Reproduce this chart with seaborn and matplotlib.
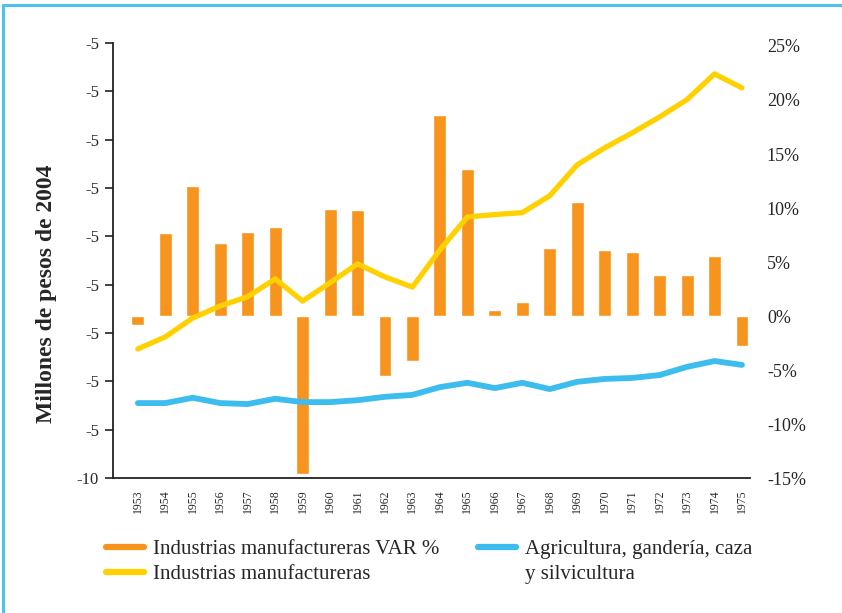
import numpy as np
import pandas as pd
import matplotlib
matplotlib.use("Agg")
import matplotlib.pyplot as plt
from matplotlib.lines import Line2D
import seaborn as sns

sns.set_style("white")
plt.rcParams["font.family"] = ["Liberation Serif", "DejaVu Serif"]

# Data
years = list(range(1953, 1976))

# Industrias manufactureras VAR % (right axis, %)
var_pct = [-0.8, 7.7, 12.0, 6.8, 7.8, 8.2, -14.6, 9.9, 9.8, -5.6, -4.2,
           18.6, 13.6, 0.55, 1.3, 6.3, 10.6, 6.1, 5.9, 3.8, 3.8, 5.6, -2.8]

# Industrias manufactureras (left axis units)
manuf = [2.67, 2.92, 3.31, 3.56, 3.75, 4.12, 3.66, 4.04, 4.43, 4.16, 3.95,
         4.72, 5.40, 5.45, 5.49, 5.84, 6.48, 6.83, 7.14, 7.47, 7.83, 8.36, 8.07]

# Agricultura, ganadería, caza y silvicultura (left axis units)
agri = [1.55, 1.55, 1.66, 1.55, 1.53, 1.64, 1.57, 1.57, 1.61, 1.68, 1.72,
        1.88, 1.97, 1.86, 1.97, 1.84, 1.99, 2.05, 2.07, 2.13, 2.30, 2.42, 2.34]

left_ticks = [0, 1, 2, 3, 4, 5, 6, 7, 8, 9]
left_labels = ["-10", "-5", "-5", "-5", "-5", "-5", "-5", "-5", "-5", "-5"]
right_ticks = [-15, -10, -5, 0, 5, 10, 15, 20, 25]
right_labels = ["-15%", "-10%", "-5%", "0%", "5%", "10%", "15%", "20%", "25%"]

c_orange = "#f7941d"
c_yellow = "#ffd100"
c_blue = "#3dbdee"

df = pd.DataFrame({"idx": np.arange(len(years)), "year": years,
                   "var": var_pct, "manuf": manuf, "agri": agri})

fig = plt.figure(figsize=(8.42, 6.13), dpi=100)
ax = fig.add_axes([0.134, 0.2202, 0.757, 0.7097])
ax2 = ax.twinx()

# bars on the right (%) axis, lines on top on the left axis
sns.barplot(data=df, x="idx", y="var", ax=ax2, color=c_orange, width=0.47,
            native_scale=True, saturation=1)
sns.lineplot(data=df, x="idx", y="manuf", ax=ax, color=c_yellow, linewidth=3.8,
             solid_joinstyle="round", solid_capstyle="round")
sns.lineplot(data=df, x="idx", y="agri", ax=ax, color=c_blue, linewidth=4.2,
             solid_joinstyle="round", solid_capstyle="round")
ax.set_zorder(ax2.get_zorder() + 1)
ax.patch.set_visible(False)

ax.set_xlim(-0.91, 22.3)
ax.set_ylim(0, 9)
ax2.set_ylim(-15, 25.28)

ax.set_yticks(left_ticks)
ax.set_yticklabels(left_labels, fontsize=12)
ax.tick_params(axis="y", direction="out", length=6, width=1.2, color="#222222", pad=4)
ax.set_xticks(df["idx"])
ax.set_xticklabels([str(y) for y in years], rotation=90, fontsize=8.5)
ax.tick_params(axis="x", length=0, pad=8)
ax.set_xlabel("")
ax.set_ylabel("Millones de pesos de 2004", fontsize=17, fontweight="bold")
ax.yaxis.set_label_coords(-0.088, 0.423)

ax2.set_yticks(right_ticks)
ax2.set_yticklabels(right_labels, fontsize=13)
ax2.tick_params(axis="y", length=0, pad=12)
ax2.set_ylabel("")
ax2.set_xlabel("")

for a in (ax, ax2):
    a.spines["top"].set_visible(False)
    a.spines["right"].set_visible(False)
ax2.spines["left"].set_visible(False)
ax2.spines["bottom"].set_visible(False)
ax.spines["left"].set_color("#222222")
ax.spines["bottom"].set_color("#222222")
ax.spines["left"].set_linewidth(1.3)
ax.spines["bottom"].set_linewidth(1.3)

handles = [Line2D([], [], color=c_orange, lw=4.5),
           Line2D([], [], color=c_yellow, lw=4.5),
           Line2D([], [], color=c_blue, lw=4.5),
           Line2D([], [], color="none", lw=0)]
labels = ["Industrias manufactureras VAR %", "Industrias manufactureras",
          "Agricultura, gandería, caza", "y silvicultura"]
leg_kw = dict(loc="upper left", frameon=False, fontsize=15, handlelength=1.8,
              handletextpad=0.45, labelspacing=0.25, borderpad=0, borderaxespad=0)
fig.legend(handles[:2], labels[:2], bbox_to_anchor=(0.126, 0.12), **leg_kw)
fig.legend(handles[2:], labels[2:], bbox_to_anchor=(0.568, 0.12), **leg_kw)

# cyan frame (top and left edges)
border = "#4cc3ef"
fig.add_artist(Line2D([0.003, 0.003], [0.0, 0.992], color=border, lw=2.2,
                      transform=fig.transFigure))
fig.add_artist(Line2D([0.003, 1.0], [0.992, 0.992], color=border, lw=2.2,
                      transform=fig.transFigure))

fig.savefig("out.png", dpi=100)
